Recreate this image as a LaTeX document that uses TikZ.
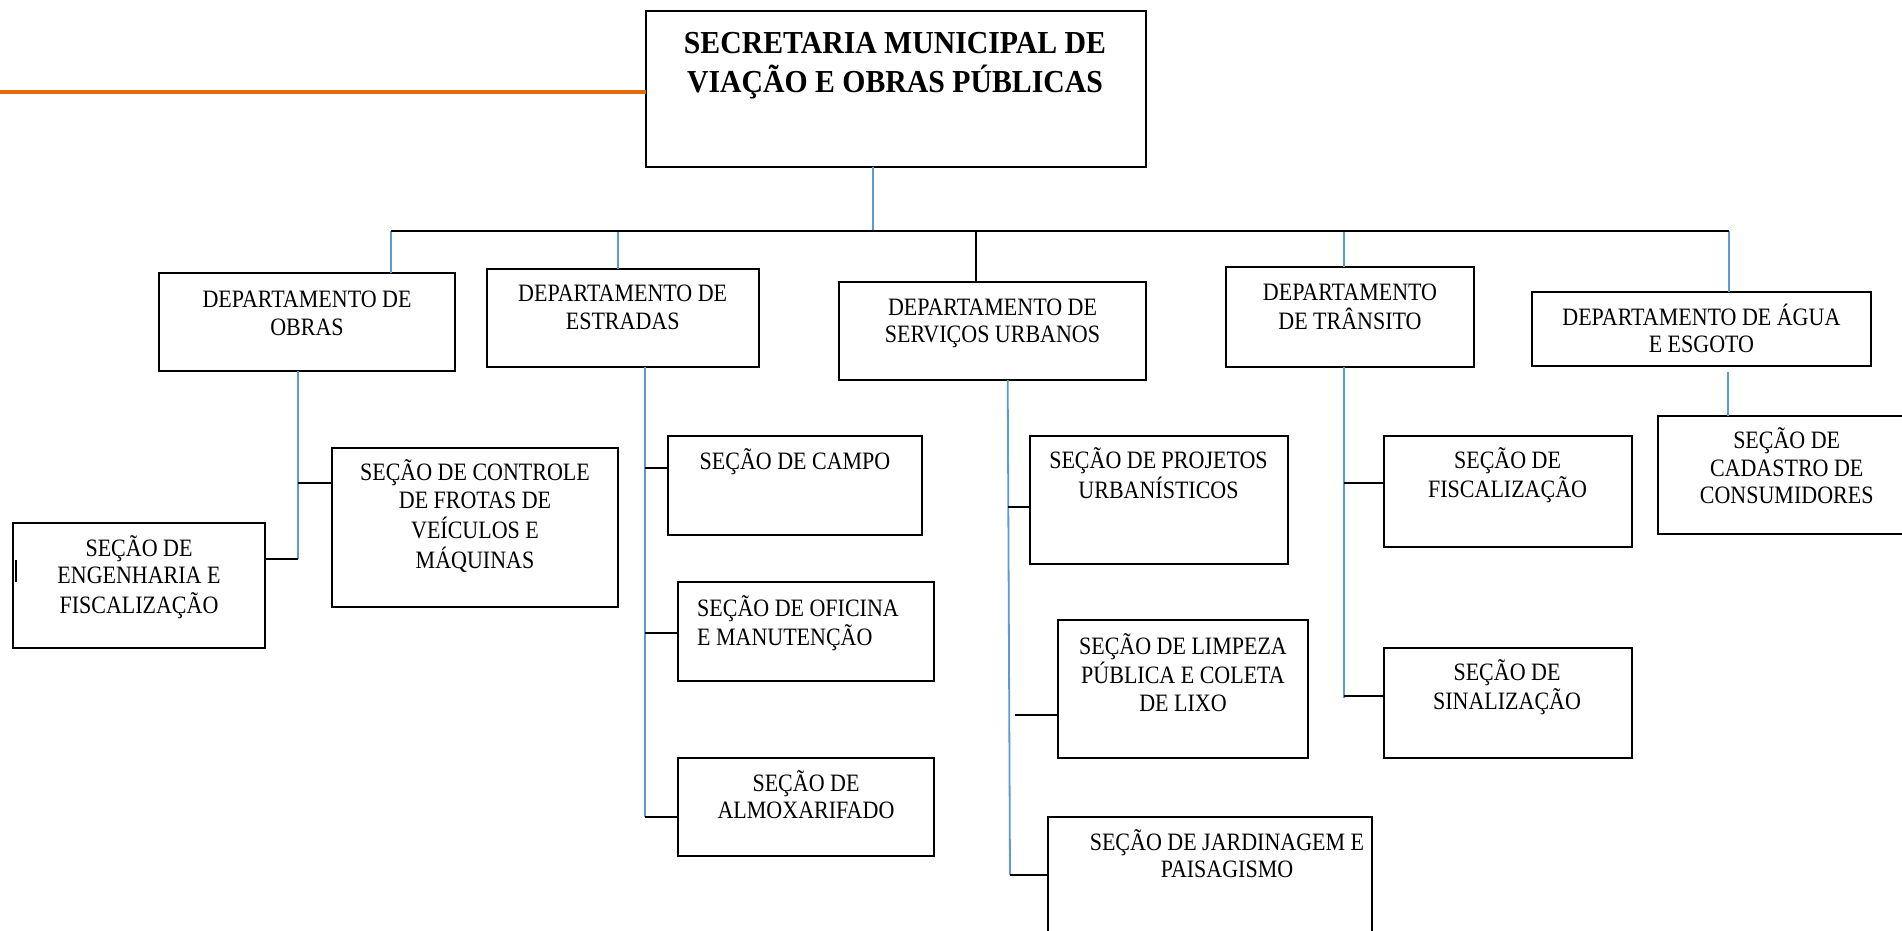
\documentclass[tikz,border=0pt]{standalone}
\usepackage{fontspec}
\setmainfont{Liberation Serif}[FakeStretch=0.88]
\newfontfamily\titlefont{Liberation Serif}[FakeStretch=0.93]
\definecolor{lnblue}{RGB}{91,155,213}
\definecolor{lnorange}{RGB}{227,108,10}
\tikzset{
  orgrect/.style={draw=black, line width=2pt, inner sep=0pt, outer sep=0pt},
  orgtext/.style={inner sep=0pt, outer sep=0pt, font=\fontsize{25}{27.8}\selectfont},
  bluelink/.style={draw=lnblue, line width=1.8pt},
  blacklink/.style={draw=black, line width=2pt},
  orangelink/.style={draw=lnorange, line width=4pt},
}
% #1 column type, #2 name, #3 x1, #4 y1, #5 x2, #6 y2, #7 text x, #8 first baseline y, #9 text
\newcommand\orgbox[9][c]{%
  \node[orgrect, minimum width={(#5-#3)*1pt}, minimum height={(#6-#4)*1pt}] (#2) at ({(#3+#5)/2},{(#4+#6)/2}) {};
  \node[orgtext, anchor=base] (#2-t) at (#7,#8) {\begin{tabular}[t]{@{}#1@{}}#9\end{tabular}};
}
\begin{document}
\begin{tikzpicture}[x=1pt, y=-1pt]
\path[use as bounding box, fill=white] (0,0) rectangle (1902,930);

% top box
\node[orgrect, minimum width=500pt, minimum height=155.7pt] (top) at (895.5,88.85) {};
\node[inner sep=0pt, anchor=base, font=\titlefont\bfseries\fontsize{32}{38.4}\selectfont] (title) at (895,53.3)
  {\begin{tabular}[t]{@{}c@{}}SECRETARIA MUNICIPAL DE\\VIAÇÃO E OBRAS PÚBLICAS\end{tabular}};

% departments
\orgbox{obras}{159.4}{272.7}{454.5}{371}{307}{307.3}{DEPARTAMENTO DE\\OBRAS}
\orgbox{estradas}{486.7}{268.7}{758.8}{366.7}{622.7}{301.7}{DEPARTAMENTO DE\\ESTRADAS}
\orgbox{servicos}{839.4}{281.7}{1145.5}{380}{992.5}{315}{DEPARTAMENTO DE\\SERVIÇOS URBANOS}
\orgbox{transito}{1226}{267}{1474}{367.3}{1350}{300}{DEPARTAMENTO\\DE TRÂNSITO}
\orgbox{agua}{1531.7}{291.7}{1871}{365.7}{1701.4}{325}{DEPARTAMENTO DE ÁGUA\\E ESGOTO}

% sections
\orgbox{eng}{13.3}{522.5}{264.8}{648.4}{139}{556}{SEÇÃO DE\\ENGENHARIA E\\FISCALIZAÇÃO}
\orgbox{frotas}{331.7}{448.3}{618.3}{606.7}{475}{480.7}{SEÇÃO DE CONTROLE\\DE FROTAS DE\\VEÍCULOS E\\MÁQUINAS}
\orgbox{campo}{667.9}{435.6}{922.4}{534.5}{795}{469}{SEÇÃO DE CAMPO}
\orgbox[l]{oficina}{678}{582}{934}{681}{798}{616.4}{SEÇÃO DE OFICINA\\E MANUTENÇÃO}
\orgbox{almox}{678}{758}{934}{856}{806}{791}{SEÇÃO DE\\ALMOXARIFADO}
\orgbox{projetos}{1029.5}{436}{1287.6}{564}{1158.5}{468.3}{SEÇÃO DE PROJETOS\\URBANÍSTICOS}
\orgbox{limpeza}{1057.6}{620.3}{1308}{758.3}{1183}{654}{SEÇÃO DE LIMPEZA\\PÚBLICA E COLETA\\DE LIXO}
\orgbox{jardim}{1047.8}{817.3}{1371.9}{945}{1227}{850}{SEÇÃO DE JARDINAGEM E\\PAISAGISMO}
\orgbox{fisc}{1383.5}{436}{1631.8}{546.7}{1507.6}{468.3}{SEÇÃO DE\\FISCALIZAÇÃO}
\orgbox{sinal}{1384}{648}{1632}{758.3}{1507}{680.7}{SEÇÃO DE\\SINALIZAÇÃO}
\orgbox{cadastro}{1658}{415.7}{1915}{534}{1786.7}{448.3}{SEÇÃO DE\\CADASTRO DE\\CONSUMIDORES}

% small mark on the left border of eng
\draw[blacklink] ([xshift=2.5pt,yshift=-37.5pt]eng.north west) -- ++(0,22);

% orange line
\coordinate (orL) at (0,92);
\draw[orangelink] (orL) -- (orL -| top.west);

% bus
\coordinate (jTop) at (872.7,230.7);
\coordinate (busL) at (391,230.7);
\coordinate (busR) at (1729,230.7);
\coordinate (jEstr) at (618,230.7);
\coordinate (jServ) at (975.5,230.7);
\coordinate (jTran) at (1344,230.7);
\draw[bluelink] (top.south -| jTop) -- (jTop);
\draw[bluelink] (busL) -- (busL |- obras.north);
\draw[bluelink] (jEstr) -- (jEstr |- estradas.north);
\draw[blacklink] (jServ) -- (jServ |- servicos.north);
\draw[bluelink] (jTran) -- (jTran |- transito.north);
\draw[bluelink] (busR) -- (busR |- agua.north);
\draw[blacklink] (busL) -- (busR);

% obras
\coordinate (vObras) at (298,558.5);
\coordinate (hFrotas) at (298,483.3);
\draw[bluelink] (obras.south -| vObras) -- (vObras);
\draw[blacklink] (vObras) -- (eng.east |- vObras);
\draw[blacklink] (hFrotas) -- (hFrotas -| frotas.west);

% estradas
\coordinate (vEstr) at (645,817);
\coordinate (hCampo) at (645,468.4);
\coordinate (hOfic) at (645,632.7);
\draw[bluelink] (estradas.south -| vEstr) -- (vEstr);
\draw[blacklink] (hCampo) -- (hCampo -| campo.west);
\draw[blacklink] (hOfic) -- (hOfic -| oficina.west);
\draw[blacklink] (vEstr) -- (vEstr -| almox.west);

% servicos
\coordinate (vServTop) at (1007.7,380);
\coordinate (vServBot) at (1010,875);
\coordinate (hProj) at (1008,507.3);
\coordinate (hLimp) at (1014.7,715);
\draw[bluelink] (servicos.south -| vServTop) -- (vServBot);
\draw[blacklink] (hProj) -- (hProj -| projetos.west);
\draw[blacklink] (hLimp) -- (hLimp -| limpeza.west);
\draw[blacklink] (vServBot) -- (vServBot -| jardim.west);

% transito
\coordinate (vTran) at (1344,698.3);
\coordinate (hFisc) at (1344,483.3);
\coordinate (hSin) at (1344,696);
\draw[bluelink] (transito.south -| vTran) -- (vTran);
\draw[blacklink] (hFisc) -- (hFisc -| fisc.west);
\draw[blacklink] (hSin) -- (hSin -| sinal.west);

% agua
\coordinate (vAgua) at (1728,371.7);
\draw[bluelink] (vAgua) -- (vAgua |- cadastro.north);
\end{tikzpicture}
\end{document}
